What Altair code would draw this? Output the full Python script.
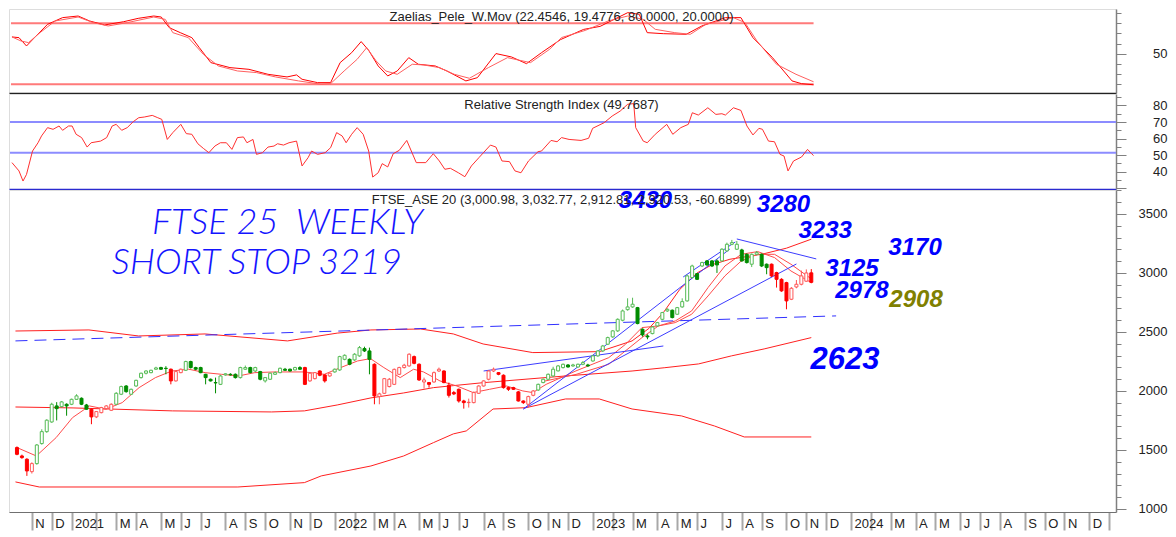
import altair as alt
import pandas as pd
from datetime import datetime, timedelta, timezone

# ---------------------------------------------------------------- data
BASE = datetime(2020, 10, 16, tzinfo=timezone.utc)   # first weekly bar (Friday)

opens = [1520,1449,1421,1316,1384,1554,1655,1737,1873,1867,
         1887,1887,1929,1938,1881,1845,1780,1816,1850,1836,
         1887,1972,2042,1972,2042,2113,2150,2155,2184,2198,
         2192,2184,2085,2155,2175,2249,2198,2198,2141,2099,
         2071,2056,2136,2141,2141,2113,2184,2198,2169,2164,
         2085,2099,2141,2155,2184,2184,2178,2198,2198,2085,
         2104,2169,2136,2127,2161,2178,2268,2268,2263,2297,
         2359,2339,2226,1952,1980,2037,2056,2141,2198,2212,
         2291,2226,2076,2071,2076,2169,2169,2048,1986,2014,
         1915,1901,1901,1980,2042,2099,2169,2155,2133,2028,
         2028,1992,1915,1887,1963,2008,2071,2099,2127,2170,
         2198,2220,2212,2203,2226,2220,2254,2297,2339,2396,
         2458,2509,2599,2689,2712,2706,2523,2466,2486,2551,
         2607,2678,2684,2650,2712,2763,2961,2994,3059,3102,
         3102,3102,3102,3187,3243,3201,3195,3158,3074,3158,
         3158,3074,3074,3003,2946,2918,2777,2881,2904,2930,
         3000.98]
highs = [1530,1460,1430,1395,1550,1675,1760,1900,1905,1915,
         1895,1935,1972,1945,1890,1850,1830,1865,1880,1895,
         1990,2045,2050,2020,2095,2155,2175,2180,2205,2205,
         2210,2190,2170,2190,2256,2256,2205,2205,2145,2105,
         2113,2135,2150,2150,2148,2205,2215,2205,2205,2170,
         2118,2155,2165,2198,2195,2190,2205,2210,2205,2155,
         2160,2175,2140,2155,2190,2298,2310,2275,2320,2381,
         2375,2367,2234,1985,2110,2110,2190,2205,2230,2319,
         2300,2234,2113,2076,2165,2198,2175,2071,2000,2020,
         1925,1935,1995,2048,2090,2175,2198,2160,2140,2035,
         2035,2000,1920,1960,2008,2062,2105,2148,2205,2220,
         2232,2228,2230,2232,2254,2230,2305,2345,2390,2460,
         2515,2615,2690,2785,2790,2712,2530,2480,2550,2585,
         2670,2700,2690,2712,2785,2985,3070,3000,3095,3110,
         3110,3115,3210,3257,3280,3271,3205,3165,3165,3186,
         3165,3080,3080,3010,2955,2925,2880,2940,3020,3030,
         3032.77]
lows = [1455,1425,1280,1300,1375,1545,1645,1730,1750,1860,
        1790,1880,1925,1880,1840,1718,1770,1810,1845,1830,
        1880,1965,1985,1965,2035,2105,2140,2150,2180,2178,
        2141,2056,2080,2150,2170,2190,2175,2150,2056,2080,
        1980,2050,2130,2130,2105,2105,2178,2150,2160,2090,
        2071,2095,2135,2150,2170,2165,2175,2178,2050,2078,
        2098,2125,2071,2120,2155,2170,2260,2218,2255,2290,
        2330,2141,1887,1887,1975,2030,2050,2135,2190,2205,
        2226,2085,2020,2028,2070,2160,2065,1944,1965,1901,
        1850,1859,1895,1975,2037,2090,2160,2133,2020,2000,
        2008,1910,1890,1859,1955,2000,2065,2095,2120,2165,
        2190,2198,2205,2198,2218,2205,2248,2290,2330,2390,
        2450,2500,2590,2680,2705,2565,2460,2438,2480,2545,
        2600,2670,2615,2645,2705,2757,2955,2940,3050,3060,
        3050,3000,3095,3180,3235,3195,3095,3080,3050,3150,
        3050,2989,2965,2876,2840,2692,2770,2870,2895,2925,
        2912.81]
closes = [1463,1435,1322,1384,1542,1655,1752,1887,1850,1907,
          1873,1929,1958,1887,1845,1780,1825,1859,1873,1887,
          1980,2037,1994,2014,2090,2150,2169,2175,2195,2184,
          2190,2085,2164,2184,2249,2198,2184,2155,2113,2085,
          2068,2127,2145,2136,2113,2198,2198,2155,2198,2099,
          2113,2150,2155,2192,2175,2169,2198,2184,2056,2150,
          2155,2133,2085,2150,2184,2291,2302,2226,2311,2367,
          2339,2268,1958,1975,2104,2099,2183,2198,2218,2311,
          2234,2093,2093,2056,2155,2184,2071,1963,1975,1915,
          1901,1904,1986,2042,2085,2169,2184,2141,2028,2014,
          2014,1915,1901,1952,2000,2056,2099,2141,2184,2212,
          2226,2203,2220,2226,2240,2212,2297,2339,2381,2452,
          2509,2607,2678,2712,2735,2571,2475,2458,2542,2579,
          2664,2692,2622,2706,2757,2975,3059,2946,3088,3068,
          3059,3068,3201,3243,3257,3243,3102,3088,3158,3172,
          3059,3045,2975,2946,2848,2763,2870,2904,2975,3000,
          2920.53]
trend = list("rrrr" + "g" * 11 + "r" * 5 + "g" * 11 + "r" * 3 + "g" * 24 +
             "r" * 6 + "g" * 8 + "r" * 33 + "g" * 47 + "r" * 9)

# (week index, value) vertices
osc_fast = [(0,66.6),(1.4,65.9),(2.9,57.7),(4.8,67.5),(7.1,79),(10.1,85.6),(13.2,87.2),(15.5,82.3),
            (18.5,78.4),(22.3,81.6),(25.2,84.9),(28.3,87.2),(29.8,86.2),(31.4,75.7),(33.6,70.8),
            (35.9,65.9),(37.4,56),(39.7,41.3),(43.5,36.4),(47.3,34.7),(51.1,29.8),(54.9,27.2),
            (56.8,29.2),(57.9,24.9),(61,21.6),(63.6,21.6),(65.5,41.3),(67.8,51.1),(69.7,62),
            (71.2,53.4),(73.1,38),(75,28.2),(76.9,33.1),(79.2,46.2),(81.1,39.7),(84.5,38),
            (86.8,33.1),(90.6,23.3),(92.9,26.5),(96.6,50.2),(99.7,46.9),(102.7,40.3),(105.7,51.1),
            (109.5,64),(114.1,74),(117.4,77),(122.9,90.5),(125.2,88.9),(126.8,70.8),(130,69.8),
            (134.6,69.2),(137.7,77.4),(142.4,85.6),(145.5,85.6),(147.9,65.9),(151.8,46.2),
            (155.7,23.3),(157.6,20.6),(160,19.48)]
osc_slow = [(0,66.6),(1.8,62.6),(3.3,61),(5.6,70.8),(8.6,82.3),(13.2,86.2),(16.2,80.7),(19.2,77.4),
            (23,80.7),(28.3,86.2),(30.6,83.9),(32.1,70.8),(35.2,65.9),(38.2,49.5),(41.2,38),(45,33.1),
            (48.8,31.5),(52.6,27.2),(57.2,23.3),(61.7,20),(63.6,20.6),(66.3,33.1),(68.9,44.6),
            (70.8,56),(72.7,42.9),(74.6,33.1),(76.9,29.8),(79.9,39.7),(82.2,39),(85.3,36.4),
            (88.3,29.8),(91.3,25.9),(95.1,36.4),(98.9,46.2),(103.5,41.3),(107.3,54.4),(109.7,66),
            (114.4,73),(119,82.3),(122.9,87.2),(126,83.9),(128.4,74.1),(132.3,70.8),(135.4,69.2),
            (138.5,79),(144,85.6),(146.3,80.7),(148.7,62.6),(152.6,39.7),(156.5,29.8),(160,22.45)]
osc_levels = [80, 20]

rsi = [(0,45.5),(1.4,40.5),(2.2,34.4),(2.9,38.4),(4.1,52.5),(5.2,57.5),(5.9,61.6),(7.1,66.6),(8.2,65.6),
       (9.4,67.6),(10.1,65),(11.3,67.6),(12,67.6),(12.8,62.6),(13.9,60.6),(15,54.9),(15.8,57.5),
       (17.7,58.5),(18.9,60.6),(20,67.6),(20.8,68.6),(21.9,65),(23,66.6),(24.2,70.2),(25.3,72.6),
       (26.4,73),(28,74),(29.1,72.6),(29.9,71.6),(31,59.5),(32.1,63.6),(33.7,68.6),(34.8,63),
       (35.9,62.6),(37.1,56.9),(38.2,54.1),(39.3,51.5),(40.5,55.5),(41.6,57.5),(42.8,57.5),
       (43.9,53.5),(45,60.6),(46.2,61),(46.9,57.5),(48.1,59.5),(48.8,50.5),(50,51.5),(51.1,54.9),
       (52.3,55.5),(53,56.9),(54.2,56.1),(55.3,57.5),(56.8,58.5),(57.9,43.5),(59.1,48.5),
       (59.8,52.5),(61,50.5),(62.5,51.5),(63.6,54.5),(64.8,63.6),(65.9,61.6),(66.7,57.5),
       (67.8,62.6),(68.9,66.6),(70.1,62.6),(71.2,52.5),(72,36.8),(73.1,39.4),(73.9,44.9),(75,42.9),
       (76.1,50.9),(77.3,52.9),(78.8,58.9),(80.7,45.5),(82.6,45.5),(84.1,50.9),(85.3,46.5),
       (86.4,41.5),(87.5,42.1),(89.1,39.4),(90.4,37),(91.7,43.5),(93.2,48.5),(95.5,56.1),
       (96.6,54.9),(97.8,46.5),(99.3,46.1),(100.4,40.5),(101.6,39.4),(103.1,46.5),(105,52.1),
       (105.7,52.5),(107.6,58.9),(108.8,58.1),(109.7,60.6),(111.2,59.5),(113.6,58.9),(115.1,60.2),
       (115.9,66.2),(118.2,69.6),(119.8,73.6),(121.4,76.6),(122.9,80.7),(124.1,81.1),(124.5,66.6),
       (126,58.5),(126.8,57.5),(128.4,62.6),(130.7,68.6),(131.9,62.6),(133.5,66.6),(135,68.6),
       (135.8,75.6),(137,74.2),(138.9,78.6),(140.5,74.6),(141.7,75),(142.4,74.2),(144,78.6),
       (145.5,77),(146.7,67.6),(147.9,62.2),(149.1,66.2),(149.8,65.6),(151,58.5),(152.2,58.1),
       (153.3,50.5),(154.1,49.5),(154.9,40.5),(156,46.5),(157.6,48.9),(158.8,53.5),(159.6,50.9),
       (160,49.77)]
rsi_levels = [70, 51.5]

upper_band = [(-0.3,2508),(14.5,2517),(24.5,2466),(37.9,2483),(54.5,2424),(64.5,2490),(71.3,2517),
              (81.3,2525),(87.9,2483),(93.9,2398),(103.9,2325),(117.3,2333),(123.9,2424),(127.3,2530),
              (130.2,2664),(133.5,2860),(137,3000),(140,3070),(143.6,3116),(150.2,3160),(155,3210),
              (160,3286)]
middle_band = [(-0.3,1864),(11.3,1856),(31.3,1831),(51.3,1822),(57.9,1831),(64.5,1881),(71.3,1941),
               (77.9,1983),(83.9,2028),(87.9,2045),(93.9,2070),(110.5,2127),(123.9,2169),(130.5,2197),
               (137.3,2229),(143.9,2297),(150.5,2356),(160,2452)]
lower_band = [(-0.3,1229),(4.5,1186),(44.5,1186),(57.9,1223),(61.3,1280),(71.3,1364),(77.9,1449),
              (83.9,1562),(87.9,1636),(90.5,1661),(95.9,1847),(102.5,1858),(110.5,1932),(117.3,1932),
              (123.9,1847),(133.9,1788),(140.5,1703),(146.5,1610),(160,1610)]
ma_fast = [(0,1520),(3.9,1449),(7.9,1605),(11.2,1774),(14.6,1873),(17.9,1845),(21.2,1901),(24.6,2028),
           (27.9,2113),(31.2,2169),(34.6,2184),(37.9,2155),(41.2,2141),(44.6,2127),(47.9,2155),
           (51.9,2161),(57.9,2161),(61.9,2141),(65.2,2198),(68.6,2254),(71.2,2274),(73.9,2198),
           (77.2,2113),(79.9,2184),(81.9,2161),(85.2,2085),(88.6,2042),(91.9,1986),(95.2,2014),
           (98.6,2042),(101.9,2000),(103.9,1986),(106.6,2056),(112.6,2170),(119.2,2282),(122.6,2396),
           (125.9,2537),(129.2,2551),(132.6,2593),(135.9,2678),(139.2,2876),(142.6,3059),(145.9,3158),
           (149.2,3181),(152.6,3130),(155.9,3017),(160,2918)]
ma_slow = [(105.9,2080),(112.6,2140),(119.2,2226),(125.9,2452),(129.2,2551),(132.6,2579),(135.9,2650),
           (139.2,2805),(142.6,2975),(145.9,3102),(149.2,3158),(152.6,3158),(155.9,3074),(160,2950)]
dashed_line = [(-0.3,2424),(165,2636)]
trend_k1 = [94, 102, 102, 134.2, 145]
trend_v1 = [2169, 1847, 1847, 2966, 3288]
trend_k2 = [130.2, 143.6, 157, 144.7, 161]
trend_v2 = [2381, 3203, 3076, 3263, 3119]

ann_k = [126.6, 154.4, 162.8, 180.9, 168.2, 170.2, 181.1, 166.8]
ann_v = [3610, 3576, 3356, 3212, 3034, 2847, 2771, 2263]
ann_text = ["3430", "3280", "3233", "3170", "3125", "2978", "2908", "2623"]
ann_color = ["#0000FF"] * 6 + ["#808000", "#0000FF"]
ann_size = [24, 24, 24, 24, 24, 24, 24, 31]

note_k = [27.2, 19.1]
note_v = [3424, 3085]
note_text = ["FTSE 25\u00a0 WEEKLY", "SHORT STOP 3219"]

title1 = "Zaelias_Pele_W.Mov (22.4546, 19.4776, 80.0000, 20.0000)"
title2 = "Relative Strength Index (49.7687)"
title3 = "FTSE_ASE 20 (3,000.98, 3,032.77, 2,912.81, 2,920.53, -60.6899)"

# ---------------------------------------------------------------- helpers
def wdate(k):
    return (BASE + timedelta(days=7 * k)).strftime("%Y-%m-%dT%H:%M:%SZ")

def ms(d):
    return int(d.timestamp() * 1000)

def pts(lst, name):
    return [{"date": wdate(k), "v": v, "s": name} for k, v in lst]

XMIN = ms(datetime(2020, 10, 11, 20, tzinfo=timezone.utc))
XMAX = ms(datetime(2025, 1, 5, 14, tzinfo=timezone.utc))
xscale = alt.Scale(type="utc", domain=[XMIN, XMAX], nice=False)

def first_friday(y, m):
    d = datetime(y, m, 1, tzinfo=timezone.utc)
    while d.weekday() != 4:
        d += timedelta(days=1)
    return d

month_ticks = []
for y in range(2020, 2026):
    for m in range(1, 13):
        t = ms(first_friday(y, m))
        if XMIN <= t <= XMAX:
            month_ticks.append(t)

W = 1107
H1, H2, H3 = 84, 95, 322
FONT = "Liberation Sans"

def xhidden(color):
    return alt.Axis(labels=False, ticks=False, title=None, grid=False,
                    domainColor=color, domainWidth=1.5)

xbottom = alt.Axis(values=month_ticks, title=None, grid=False,
                   labelExpr="utcmonth(datum.value) == 0 ? (utcyear(datum.value) >= 2025 ? '' : utcFormat(datum.value, '%Y')) : (utcmonth(datum.value) == 1 ? '' : substring(utcFormat(datum.value, '%b'), 0, 1))",
                   tickSize=18, tickWidth=2, tickColor="#A8A8A8", domainColor="#707070",
                   labelAlign="left", labelOffset=3, labelBaseline="top", labelPadding=-13,
                   labelFont=FONT, labelFontSize=13, labelColor="#222222",
                   labelOverlap=False, labelFlush=False, labelBound=False)

def yaxis(vals, label_test, major_test):
    return alt.Axis(orient="right", values=vals, format="d", title=None, grid=False,
                    labelExpr=f"({label_test}) ? datum.label : ''",
                    labelFontSize={"condition": {"test": label_test, "value": 13}, "value": 0},
                    tickSize={"condition": {"test": major_test, "value": 10}, "value": 5},
                    tickColor="#808080", tickWidth=1, domainColor="#808080", domainWidth=1.5,
                    labelAlign="right", labelBaseline="middle", labelPadding=41,
                    labelFont=FONT, labelColor="#222222",
                    labelOverlap=False, labelBound=False, labelFlush=False)

def title_layer(text, ypix):
    return alt.Chart(pd.DataFrame({"t": [text]})).mark_text(
        font=FONT, fontSize=13, color="#222222", align="center", baseline="middle"
    ).encode(x=alt.value(W / 2 - 1), y=alt.value(ypix), text="t:N")

# ---------------------------------------------------------------- panel 1 (oscillator)
y1s = alt.Scale(domain=[11.4, 94.1], nice=False, zero=False)
ax1 = yaxis(list(range(20, 100, 10)), "datum.value == 50", "datum.value == 50")
x1 = lambda f: alt.X(f, type="temporal", scale=xscale, axis=xhidden("#222222"))

lev1 = pd.DataFrame({"a": [wdate(-0.2)] * 2, "b": [wdate(160)] * 2, "y": osc_levels})
p1_levels = alt.Chart(lev1).mark_rule(color="#FF7A7A", strokeWidth=2).encode(
    x=x1("a"), x2="b:T", y=alt.Y("y:Q", scale=y1s, axis=ax1))
osc_df = pd.DataFrame(pts(osc_fast, "fast") + pts(osc_slow, "slow"))
osc_df["col"] = osc_df["s"].map({"fast": "#FF0000", "slow": "#FF6060"})
p1_lines = alt.Chart(osc_df).mark_line(strokeWidth=1).encode(
    x=x1("date"), y=alt.Y("v:Q", scale=y1s, axis=ax1), detail="s:N",
    color=alt.Color("col:N", scale=None))
p1 = alt.layer(p1_levels, p1_lines, title_layer(title1, 8)).properties(width=W, height=H1)

# ---------------------------------------------------------------- panel 2 (RSI)
y2s = alt.Scale(domain=[29.6, 86.9], nice=False, zero=False)
ax2 = yaxis(list(range(30, 90, 5)), "datum.value % 10 == 0 && datum.value >= 40", "datum.value % 10 == 0")
x2 = lambda f: alt.X(f, type="temporal", scale=xscale, axis=xhidden("#2A2AD0"))

p2_levels = alt.Chart(pd.DataFrame({"y": rsi_levels})).mark_rule(color="#8C8CFF", strokeWidth=2).encode(
    x=alt.value(1), x2=alt.value(W), y=alt.Y("y:Q", scale=y2s, axis=ax2))
rsi_df = pd.DataFrame(pts(rsi, "rsi"))
p2_line = alt.Chart(rsi_df).mark_line(color="#FF3030", strokeWidth=1).encode(
    x=x2("date"), y=alt.Y("v:Q", scale=y2s, axis=ax2))
p2 = alt.layer(p2_levels, p2_line, title_layer(title2, 11)).properties(width=W, height=H2)

# ---------------------------------------------------------------- panel 3 (price)
y3s = alt.Scale(domain=[974, 3703], nice=False, zero=False)
ax3 = yaxis(list(range(1000, 3800, 100)), "datum.value % 500 == 0", "datum.value % 500 == 0")
x3 = lambda f: alt.X(f, type="temporal", scale=xscale, axis=xbottom)

bands_df = pd.DataFrame(pts(upper_band, "u") + pts(middle_band, "m") + pts(lower_band, "l"))
p3_bands = alt.Chart(bands_df).mark_line(color="#FF2020", strokeWidth=1).encode(
    x=x3("date"), y=alt.Y("v:Q", scale=y3s, axis=ax3), detail="s:N")
ma_df = pd.DataFrame(pts(ma_fast, "f") + pts(ma_slow, "s2"))
p3_ma = alt.Chart(ma_df).mark_line(color="#FF4A4A", strokeWidth=1).encode(
    x=x3("date"), y=alt.Y("v:Q", scale=y3s, axis=ax3), detail="s:N")
dash_df = pd.DataFrame(pts(dashed_line, "d"))
p3_dash = alt.Chart(dash_df).mark_line(color="#3030FF", strokeWidth=1, strokeDash=[12, 7]).encode(
    x=x3("date"), y=alt.Y("v:Q", scale=y3s, axis=ax3))
seg_df = pd.DataFrame({"a": [wdate(k) for k in trend_k1], "va": trend_v1,
                       "b": [wdate(k) for k in trend_k2], "vb": trend_v2})
p3_segs = alt.Chart(seg_df).mark_rule(color="#3C3CFF", strokeWidth=1).encode(
    x=x3("a"), x2="b:T", y=alt.Y("va:Q", scale=y3s, axis=ax3), y2="vb:Q")

cdf = pd.DataFrame({"date": [wdate(k) for k in range(len(opens))], "o": opens, "h": highs,
                    "l": lows, "c": closes, "t": trend})
up = cdf["c"] > cdf["o"]
cdf["stroke"] = [("#55BB55" if t == "g" else "#FF5555") if u else ("#008C00" if t == "g" else "#FF0000")
                 for t, u in zip(cdf["t"], up)]
cdf["fill"] = ["#FFFFFF" if u else s for s, u in zip(cdf["stroke"], up)]
p3_wick = alt.Chart(cdf).mark_rule(strokeWidth=1).encode(
    x=x3("date"), y=alt.Y("l:Q", scale=y3s, axis=ax3), y2="h:Q",
    color=alt.Color("stroke:N", scale=None))
p3_body = alt.Chart(cdf).mark_bar(size=3, strokeWidth=1).encode(
    x=x3("date"), y=alt.Y("o:Q", scale=y3s, axis=ax3), y2="c:Q",
    fill=alt.Fill("fill:N", scale=None), stroke=alt.Stroke("stroke:N", scale=None))

ann_df = pd.DataFrame({"date": [wdate(k) for k in ann_k], "v": ann_v, "t": ann_text,
                       "col": ann_color, "fs": ann_size})
p3_ann = alt.Chart(ann_df).mark_text(font=FONT, fontWeight="bold", fontStyle="italic",
                                     align="center", baseline="middle").encode(
    x=x3("date"), y=alt.Y("v:Q", scale=y3s, axis=ax3), text="t:N",
    color=alt.Color("col:N", scale=None), size=alt.Size("fs:Q", scale=None))
note_df = pd.DataFrame({"date": [wdate(k) for k in note_k], "v": note_v, "t": note_text})
p3_note = alt.Chart(note_df).mark_text(font="Lato", fontStyle="italic", fontWeight=300, fontSize=36,
                                       color="#1414FF", align="left", baseline="middle").encode(
    x=x3("date"), y=alt.Y("v:Q", scale=y3s, axis=ax3), text="t:N")

p3 = alt.layer(p3_bands, p3_ma, p3_dash, p3_segs, p3_wick, p3_body, p3_ann, p3_note,
               title_layer(title3, 10)).properties(width=W, height=H3)

chart = alt.vconcat(p1, p2, p3, spacing=1, padding=0, bounds="flush").resolve_scale(
    x="independent", y="independent").configure_view(stroke=None).configure(background="white")

chart.save("out.html", embed_options={"renderer": "svg", "actions": False})
